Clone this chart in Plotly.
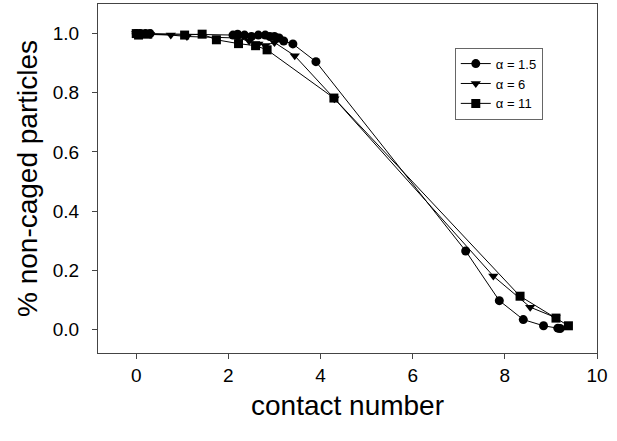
import plotly.graph_objects as go

x_a15 = [0.0, 0.1, 0.2, 0.3, 2.1, 2.2, 2.35, 2.5, 2.65, 2.8, 2.9, 3.0, 3.1, 3.2, 3.4, 3.9, 7.15, 7.88, 8.4, 8.84, 9.15, 9.2]
y_a15 = [1.0, 1.0, 1.0, 1.0, 0.995, 0.998, 0.995, 0.99, 0.995, 0.995, 0.99, 0.99, 0.985, 0.975, 0.965, 0.905, 0.265, 0.097, 0.033, 0.012, 0.004, 0.003]

x_a6 = [0.0, 0.15, 0.3, 0.75, 1.1, 2.2, 2.45, 2.65, 2.8, 3.0, 3.44, 4.3, 7.75, 8.55, 9.1]
y_a6 = [1.0, 0.998, 0.997, 0.995, 0.99, 0.985, 0.975, 0.965, 0.96, 0.97, 0.925, 0.78, 0.18, 0.075, 0.04]

x_a11 = [0.0, 0.05, 0.25, 1.05, 1.43, 1.74, 2.22, 2.59, 2.84, 4.29, 8.33, 9.11, 9.38]
y_a11 = [1.0, 0.995, 0.998, 0.995, 0.998, 0.979, 0.966, 0.959, 0.945, 0.782, 0.112, 0.038, 0.012]

series_names = ["α = 1.5", "α = 6", "α = 11"]
x_ticks = [0, 2, 4, 6, 8, 10]
y_ticks = [0.0, 0.2, 0.4, 0.6, 0.8, 1.0]

FONT = "Liberation Sans, Arial, sans-serif"

fig = go.Figure()
for xs, ys, name, sym in [(x_a15, y_a15, series_names[0], "circle"),
                          (x_a6, y_a6, series_names[1], "triangle-down"),
                          (x_a11, y_a11, series_names[2], "square")]:
    fig.add_trace(go.Scatter(
        x=xs, y=ys, name=name, mode="lines+markers",
        line=dict(color="black", width=1),
        marker=dict(symbol=sym, size=9, color="black"),
    ))

axis_common = dict(
    showline=True, linecolor="#444444", linewidth=1, mirror=True,
    ticks="outside", ticklen=5, tickcolor="#444444",
    showgrid=False, zeroline=False,
    tickfont=dict(family=FONT, size=19, color="black"),
)

fig.update_layout(
    width=617, height=441,
    margin=dict(l=98, r=20, t=4, b=88),
    paper_bgcolor="white", plot_bgcolor="white",
    font=dict(family=FONT, color="black"),
    xaxis=dict(range=[-0.83, 10], tickvals=x_ticks, ticktext=[str(v) for v in x_ticks],
               title=dict(text="contact number", font=dict(family=FONT, size=28), standoff=10),
               **axis_common),
    yaxis=dict(range=[-0.08, 1.1], tickvals=y_ticks, ticktext=[f"{v:.1f}" for v in y_ticks],
               ticklabelstandoff=9,
               title=dict(text="% non-caged particles", font=dict(family=FONT, size=28), standoff=6),
               **axis_common),
    legend=dict(x=0.715, y=0.875, xanchor="left", yanchor="top",
                bordercolor="#666666", borderwidth=1, bgcolor="white",
                font=dict(family=FONT, size=13), tracegroupgap=0, itemwidth=30),
    showlegend=True,
)

fig.write_html("out.html", config={"displayModeBar": False},
               post_script="document.body.style.margin='0';document.body.style.overflow='hidden';")
